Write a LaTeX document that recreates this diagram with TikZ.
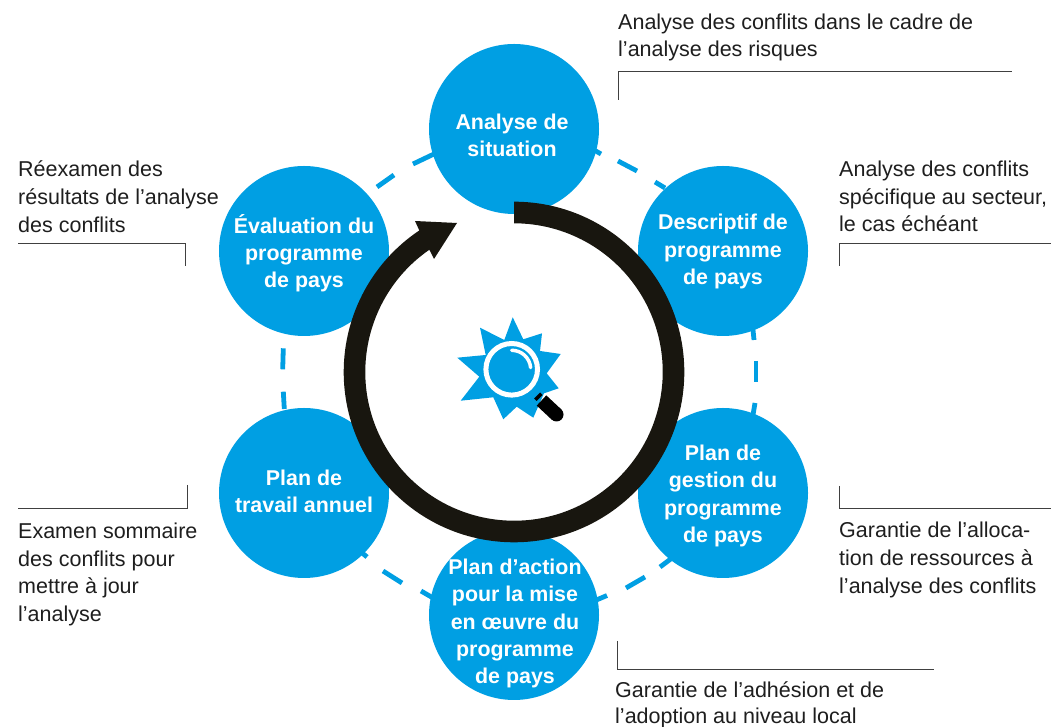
\documentclass[tikz,border=0pt]{standalone}
\usepackage{fontspec}
\setmainfont{Liberation Sans}
\definecolor{bleu}{HTML}{009FE3}
\definecolor{noir}{HTML}{18160F}
\definecolor{txt}{HTML}{1E1E1E}
\tikzset{
  disc/.style={circle,fill=bleu,minimum size=170pt,inner sep=0pt},
  disctext/.style={text=white,font=\fontsize{21.4pt}{27.2pt}\selectfont\bfseries,align=center,inner sep=0pt},
  note/.style={text=txt,font=\fontsize{21.5pt}{27.7pt}\selectfont,align=left,inner sep=0pt,anchor=west},
  bracket/.style={draw=txt!85,line width=0.9pt},
  dashpiece/.style={draw=bleu,line width=4.8pt},
}
\begin{document}
\begin{tikzpicture}[x=1pt,y=-1pt,yshift=727pt]
\useasboundingbox (0,0) rectangle (1051,727);
\coordinate (ctr) at (514,372);
% dashed cycle
\foreach \xa/\ya/\xb/\yb in {594/150/601/154, 618/161/637/171, 655/182/665/188,
  752.5/325/754/340, 756/361/756/382, 755/403/753/415,
  594/601/607/595.5, 626/588/645/577, 660/567/672/558,
  360/551/367/557, 383/571/402/583, 421/591/434/598.5,
  283.3/348.3/282.7/369.3, 283.3/391.7/284.3/409,
  377/187/394/175, 413/164/434/154}{
  \draw[dashpiece] (\xa,\ya) -- (\xb,\yb);
}
% discs
\node[disc] (c1) at (514,129) {};
\node[disc] (c2) at (723,251) {};
\node[disc] (c3) at (723,493) {};
\node[disc] (c4) at (514,615) {};
\node[disc] (c5) at (304,493) {};
\node[disc] (c6) at (304,251) {};
\node[disctext] (t1) at (512,135.5) {Analyse de\\situation};
\node[disctext] (t2) at (723,251.5) {Descriptif de\\programme\\de pays};
\node[disctext] (t3) at (723,496) {Plan de\\gestion du\\programme\\de pays};
\node[disctext] (t4) at (515,623.5) {Plan d’action\\pour la mise\\en œuvre du\\programme\\de pays};
\node[disctext] (t5) at (304,491) {Plan de\\travail annuel};
\node[disctext] (t6) at (304,253) {Évaluation du\\programme\\de pays};
% ring
\fill[noir] ([shift={(90:170.3pt)}]ctr) arc[start angle=90,end angle=-238,radius=170.3pt]
  -- ([shift={(-238:148.7pt)}]ctr) arc[start angle=-238,end angle=90,radius=148.7pt] -- cycle;
\fill[noir] (415,221) -- (457,223) -- (434,259) -- (430,251) -- (420,232) -- cycle;
% sun
\fill[bleu] (512.7,317.3) -- (523.3,339.3) -- (542,333.3) -- (540,351) -- (560.7,354) -- (546.7,373.3)
 -- (558.7,388.3) -- (544,393.3) -- (533.3,417.7) -- (516.7,406.7) -- (503.3,419.3) -- (493.3,397.3)
 -- (460.7,400.7) -- (479.3,376.7) -- (457.3,357.7) -- (485.7,355) -- (480,327.7) -- (504.3,340) -- cycle;
\coordinate (lens) at (511.7,369.3);
\draw[white,fill=bleu,line width=5pt] (lens) circle[radius=25.8pt];
\draw[white,line width=3.5pt,line cap=round] ([shift={(90:19pt)}]lens) arc[start angle=90,end angle=5,radius=19pt];
\draw[black,line width=8.5pt] (537,395.5) -- (539.5,398);
\draw[black,line width=14pt] (541.5,400.5) -- (556.5,414.5);
\fill[black] (556.5,414.5) circle[radius=7pt];
% notes
\node[note] (n1) at (618,37.5) {Analyse des conflits dans le cadre de\\l’analyse des risques};
\node[note] (n2) at (839,196.5) {Analyse des conflits\\spécifique au secteur,\\le cas échéant};
\node[note] (n3) at (839,560) {Garantie de l’alloca-\\tion de ressources à\\l’analyse des conflits};
\node[note,font=\fontsize{21.5pt}{26pt}\selectfont] (n4) at (615,705) {Garantie de l’adhésion et de\\l’adoption au niveau local};
\node[note] (n5) at (18,574.5) {Examen sommaire\\des conflits pour\\mettre à jour\\l’analyse};
\node[note] (n6) at (18,196.5) {Réexamen des\\résultats de l’analyse\\des conflits};
% brackets
\coordinate (b1a) at (618,100); \coordinate (b1b) at (618,71); \coordinate (b1c) at (1012,71);
\coordinate (b2a) at (839,266); \coordinate (b2b) at (839,243); \coordinate (b2c) at (1051,243);
\coordinate (b3a) at (839,486); \coordinate (b3b) at (839,508); \coordinate (b3c) at (1051,508);
\coordinate (b4a) at (617,641); \coordinate (b4b) at (617,669); \coordinate (b4c) at (934,669);
\coordinate (b5a) at (187,485); \coordinate (b5b) at (187,508); \coordinate (b5c) at (18,508);
\coordinate (b6a) at (185,266); \coordinate (b6b) at (185,243); \coordinate (b6c) at (18,243);
\foreach \k in {1,...,6}{ \draw[bracket] (b\k a) -- (b\k b) -- (b\k c); }
\end{tikzpicture}
\end{document}
